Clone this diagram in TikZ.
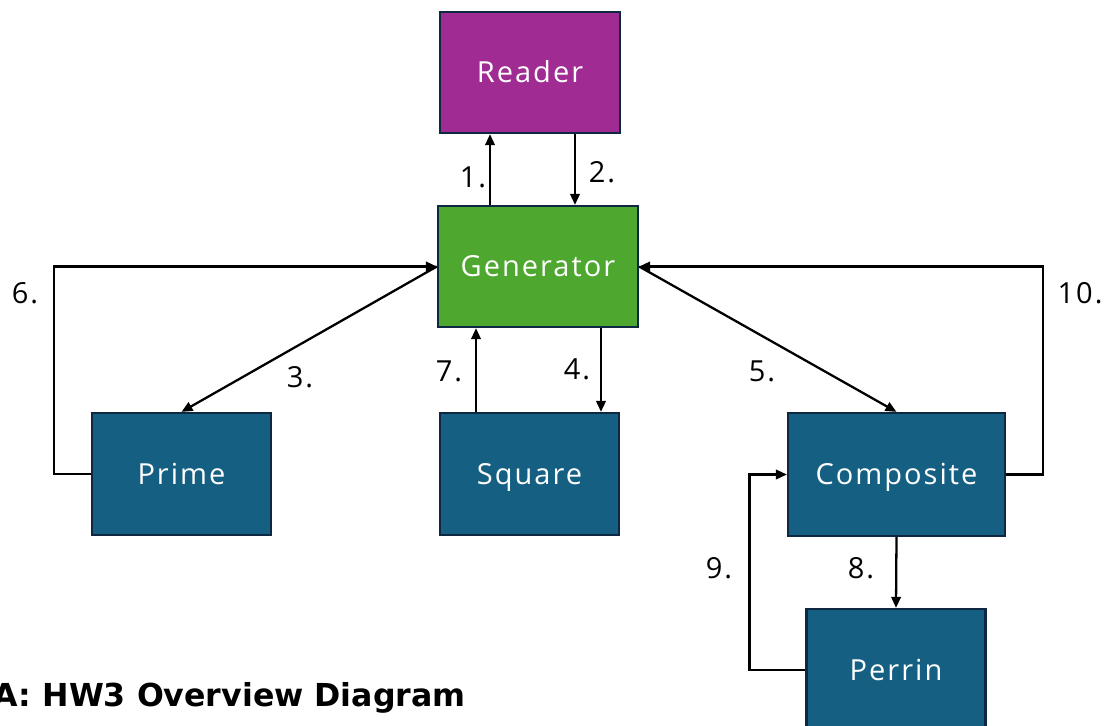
\documentclass[tikz,border=0pt]{standalone}
\usepackage{fontspec}
\setmainfont[LetterSpace=7]{Open Sans}
\newfontfamily\hwtitlefont{DejaVu Sans}
\usetikzlibrary{arrows.meta,positioning}
\definecolor{hwReader}{HTML}{A02B93}
\definecolor{hwGen}{HTML}{4EA72E}
\definecolor{hwSeq}{HTML}{156082}
\definecolor{hwEdge}{HTML}{0E2841}
\tikzset{
  hw diagram/.style={font=\fontsize{16.5}{19}\selectfont, line join=miter},
  hw box/.style={draw=hwEdge, fill=hwSeq, text=white, line width=1.3pt,
    inner sep=0pt, text height=11.7pt, text depth=0pt,
    minimum width=3.58cm, minimum height=2.44cm},
  hw arrow/.style={-{Triangle[length=0.22cm,width=0.19cm]}, line width=1.3pt},
  hw label/.style={inner sep=0pt, text height=11.7pt, text depth=0pt}
}
\begin{document}
\begin{tikzpicture}[hw diagram,x=0.02cm,y=-0.02cm]
\useasboundingbox (0,0) rectangle (1106,725);
% boxes
\node[hw box, fill=hwReader, minimum width=3.6cm, minimum height=2.42cm] (reader) at (530,72.5) {Reader};
\node[hw box, fill=hwGen, minimum width=4cm, minimum height=2.42cm] (gen) at (538,266.5) {Generator};
\node[hw box] (prime) at (181.5,474) {Prime};
\node[hw box] (square) at (529.5,474) {Square};
\node[hw box, minimum width=4.34cm, minimum height=2.46cm] (composite) at (896.5,474.5) {Composite};
\node[hw box] (perrin) at (896,670) {Perrin};
% connectors
\draw[hw arrow] ([xshift=-0.96cm]gen.north) -- ([xshift=-0.96cm]gen.north |- reader.south);
\draw[hw arrow] ([xshift=0.9cm]reader.south) -- ([xshift=0.9cm]reader.south |- gen.north);
\draw[hw arrow] (gen.west) -- (prime.north);
\draw[hw arrow] ([xshift=1.26cm]gen.south) -- ([xshift=1.26cm]gen.south |- square.north);
\draw[hw arrow] (gen.east) -- (composite.north);
\draw[hw arrow] (prime.west) -- ++(-37,0) |- (gen.west);
\draw[hw arrow] ([xshift=-1.07cm]square.north) -- ([xshift=-1.07cm]square.north |- gen.south);
\draw[hw arrow] (composite.south) -- (perrin.north);
\draw[hw arrow] (perrin.west) -- ++(-56,0) |- (composite.west);
\draw[hw arrow] (composite.east) -- ++(37,0) |- (gen.east);
% step numbers
\foreach \pos/\txt [count=\i] in {{473,177}/1., {602,172}/2., {300,377}/3., {577,369}/4.,
    {762,371}/5., {25,293}/6., {449,371}/7., {861,568}/8., {719,568}/9., {1080,293}/10.}
  \node[hw label] (n\i) at (\pos) {\txt};
\node[anchor=east, inner sep=0pt, font=\hwtitlefont\bfseries\fontsize{18}{22}\selectfont] (title) at (466,698) {A: HW3 Overview Diagram};
\end{tikzpicture}
\end{document}
